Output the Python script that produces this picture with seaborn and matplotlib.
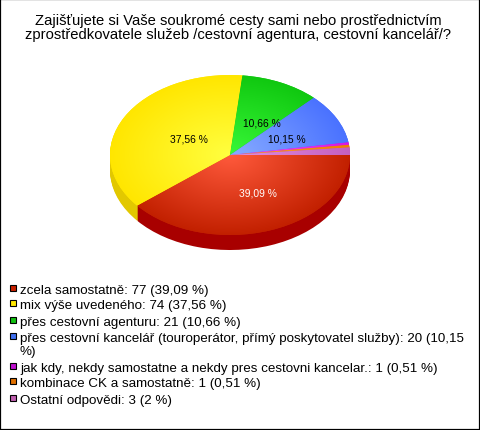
import numpy as np
import matplotlib
matplotlib.use("Agg")
import matplotlib.pyplot as plt
from matplotlib.colors import to_rgb
from matplotlib.patches import Rectangle
import seaborn as sns

title_text = "Zajišťujete si Vaše soukromé cesty sami nebo prostřednictvím\nzprostředkovatele služeb /cestovní agentura, cestovní kancelář/?"
counts = [77, 74, 21, 20, 1, 1, 3]
top_colors = ["#C22000", "#FFE600", "#10C810", "#4A72FF", "#D818E0", "#F08000", "#C460C0"]
glow_colors = ["#FF5A3C", "#FFFF40", "#38F838", "#88ACFF", "#F060FF", "#FFA040", "#E090E0"]
side_colors = ["#A80000", "#E2C800", "#0CA00C", "#3050C0", "#A010A8", "#C06000", "#A04898"]
legend_colors = ["#C82000", "#FFE800", "#10C010", "#4070F0", "#C010D0", "#E07000", "#C060B0"]
legend_labels = [
    "zcela samostatně: 77 (39,09 %)",
    "mix výše uvedeného: 74 (37,56 %)",
    "přes cestovní agenturu: 21 (10,66 %)",
    "přes cestovní kancelář (touroperátor, přímý poskytovatel služby): 20 (10,15\n%)",
    "jak kdy, nekdy samostatne a nekdy pres cestovni kancelar.: 1 (0,51 %)",
    "kombinace CK a samostatně: 1 (0,51 %)",
    "Ostatní odpovědi: 3 (2 %)",
]
pct_labels = ["39,09 %", "37,56 %", "10,66 %", "10,15 %"]

W, H = 480, 431
CX, CY, RX, RY, DEPTH = 230, 156, 120, 80, 15

sns.set_theme(style="white")
plt.rcParams["font.family"] = ["Liberation Sans", "DejaVu Sans"]

fig = plt.figure(figsize=(W / 100, H / 100), dpi=100, facecolor="white")
ax = fig.add_axes([0, 0, 1, 1])

def dx(px):
    return (px - CX) / RX

def dy(py):
    return (CY - py) / RY

# extruded side
side_pal = sns.color_palette(side_colors)
for k in range(DEPTH, 0, -1):
    ax.pie(counts, colors=side_pal, startangle=0, counterclock=False, radius=1,
           center=(0, -k / RY), wedgeprops=dict(linewidth=0))

# top surface
wedges, _ = ax.pie(counts, colors=sns.color_palette(top_colors), startangle=0, counterclock=False,
                   radius=1, center=(0, 0), wedgeprops=dict(linewidth=0))

# radial shading, one image per wedge, from the glow colour to the wedge colour
xx, yy = np.meshgrid(np.linspace(-1, 1, 400), np.linspace(-1, 1, 400))
rr = np.clip(np.hypot(xx, yy), 0, 1)[..., None]
for wedge, base, glow in zip(wedges, top_colors, glow_colors):
    shade = np.array(to_rgb(glow)) * (1 - rr) + np.array(to_rgb(base)) * rr
    im = ax.imshow(shade, extent=(-1, 1, -1, 1), origin="lower", aspect="auto", zorder=3,
                   interpolation="bilinear")
    im.set_clip_path(wedge)

ax.set_aspect("auto")
ax.set_xlim(dx(0), dx(W))
ax.set_ylim(dy(H), dy(0))
ax.axis("off")

# percentage labels
label_pos = [(258, 194), (189, 140), (262, 124), (287, 140)]
label_col = ["white", "black", "black", "black"]
for txt, (px, py), c in zip(pct_labels, label_pos, label_col):
    ax.text(dx(px), dy(py), txt, color=c, fontsize=7.4, ha="center", va="center", zorder=5)

# title
ax.text(dx(238), dy(28), title_text, fontsize=10.6, ha="center", va="center", color="black",
        linespacing=1.08, zorder=5)

# legend
rows = [292, 307, 324, 340, 370, 385, 402]
for lab, col, py in zip(legend_labels, legend_colors, rows):
    ax.add_patch(Rectangle((dx(10), dy(py)), 6 / RX, 6 / RY, facecolor=col, edgecolor="black",
                           linewidth=0.8, zorder=5))
    ax.text(dx(20), dy(py - 7), lab, fontsize=9.65, ha="left", va="top", color="black",
            linespacing=1.12, zorder=5)

# outer frame
ax.add_patch(Rectangle((0, 0), 1, 1, transform=ax.transAxes, fill=False, edgecolor="black",
                       linewidth=1.6, clip_on=True, zorder=6))

fig.savefig("out.png", dpi=100)
